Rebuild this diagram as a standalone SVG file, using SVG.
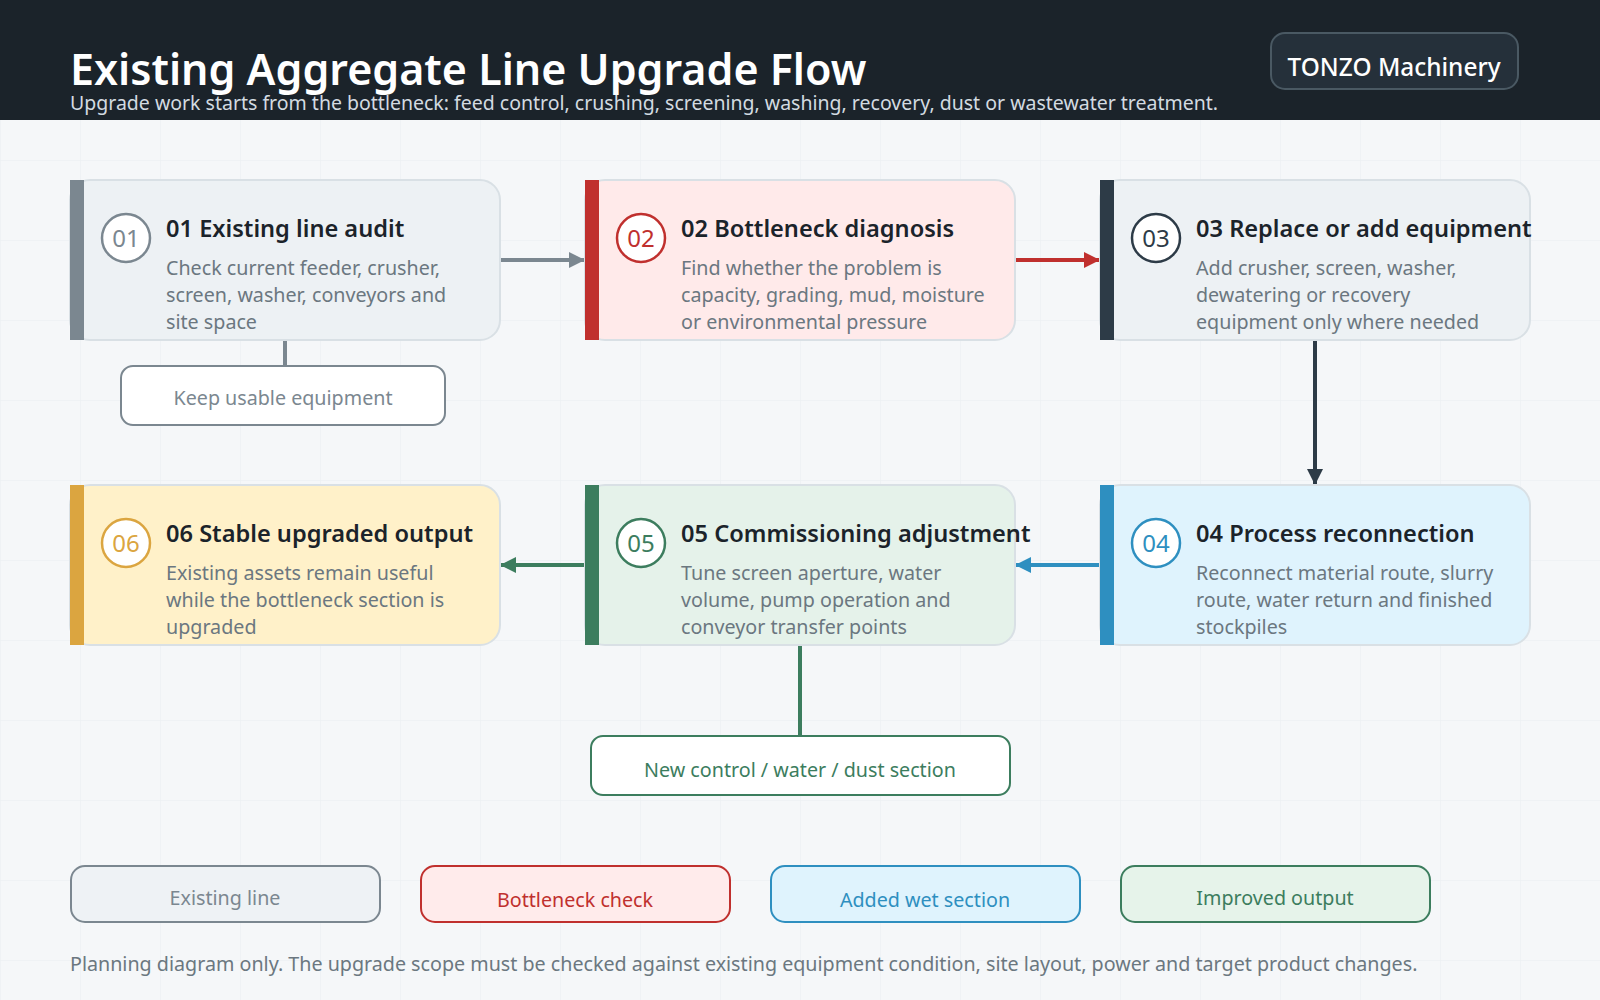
<svg xmlns="http://www.w3.org/2000/svg" width="1600" height="1000" viewBox="0 0 1600 1000">
<defs>
<pattern id="grid" width="80" height="80" patternUnits="userSpaceOnUse"><path d="M80 0H0V80" fill="none" stroke="#eaeef1" stroke-width="1"/></pattern>
<marker id="ah-gray" viewBox="0 0 10 10" refX="10" refY="5" markerWidth="4" markerHeight="4" orient="auto"><path d="M0 0L10 5L0 10z" fill="#7b8790"/></marker>
<marker id="ah-red" viewBox="0 0 10 10" refX="10" refY="5" markerWidth="4" markerHeight="4" orient="auto"><path d="M0 0L10 5L0 10z" fill="#c0302e"/></marker>
<marker id="ah-dark" viewBox="0 0 10 10" refX="10" refY="5" markerWidth="4" markerHeight="4" orient="auto"><path d="M0 0L10 5L0 10z" fill="#2d3b47"/></marker>
<marker id="ah-blue" viewBox="0 0 10 10" refX="10" refY="5" markerWidth="4" markerHeight="4" orient="auto"><path d="M0 0L10 5L0 10z" fill="#2e8fc0"/></marker>
<marker id="ah-green" viewBox="0 0 10 10" refX="10" refY="5" markerWidth="4" markerHeight="4" orient="auto"><path d="M0 0L10 5L0 10z" fill="#3c7d5e"/></marker>
</defs>
<style>
text{font-family:"Noto Sans","Open Sans",sans-serif}
.title{font-size:43px;font-weight:600;fill:#ffffff}
.sub{font-size:19.5px;fill:#d3dbe1}
.badge{font-size:24.4px;font-weight:500;fill:#ffffff}
.card{stroke:#d9e0e5;stroke-width:2}
.ct{font-size:23.6px;font-weight:600;fill:#1b232a}
.cd{font-size:19.7px;fill:#6b7780}
.num{font-size:24px;text-anchor:middle}
.circ{fill:#ffffff;stroke-width:2.5}
.note{font-size:19.7px;text-anchor:middle}
.leg{font-size:19.7px;text-anchor:middle}
.foot{font-size:19.7px;fill:#6b7780}
.conn{fill:none;stroke-width:4}
</style>
<rect width="1600" height="1000" fill="#f5f7f9"/>
<rect width="1600" height="1000" fill="url(#grid)"/>
<g id="header">
<rect x="0" y="0" width="1600" height="120" fill="#1b232a"/>
<text class="title" x="70" y="85">Existing Aggregate Line Upgrade Flow</text>
<text class="sub" x="70" y="110">Upgrade work starts from the bottleneck: feed control, crushing, screening, washing, recovery, dust or wastewater treatment.</text>
</g>
<g id="badge">
<rect x="1271" y="33" width="247" height="56" rx="14" fill="#25303a" stroke="#4a5963" stroke-width="2"/>
<text class="badge" x="1394" y="76" text-anchor="middle">TONZO Machinery</text>
</g>
<g id="connectors">
<path class="conn" d="M500 260H585" stroke="#7b8790" marker-end="url(#ah-gray)"/>
<path class="conn" d="M1015 260H1100" stroke="#c0302e" marker-end="url(#ah-red)"/>
<path class="conn" d="M1315 340V485" stroke="#2d3b47" marker-end="url(#ah-dark)"/>
<path class="conn" d="M1100 565H1015" stroke="#2e8fc0" marker-end="url(#ah-blue)"/>
<path class="conn" d="M585 565H500" stroke="#3c7d5e" marker-end="url(#ah-green)"/>
<path class="conn" d="M285 340V365" stroke="#7b8790" stroke-width="3"/>
<path class="conn" d="M800 645V735" stroke="#3c7d5e"/>
</g>
<g id="step01">
<rect class="card" x="70" y="180" width="430" height="160" rx="20" fill="#edf1f4"/>
<rect x="70" y="180" width="14" height="160" fill="#7b8790"/>
<circle class="circ" cx="126" cy="238" r="24" stroke="#7b8790"/>
<text class="num" x="126" y="247" fill="#7b8790">01</text>
<text class="ct" x="166" y="237">01 Existing line audit</text>
<text class="cd" x="166" y="275">Check current feeder, crusher,</text>
<text class="cd" x="166" y="302">screen, washer, conveyors and</text>
<text class="cd" x="166" y="329">site space</text>
</g>
<g id="step02">
<rect class="card" x="585" y="180" width="430" height="160" rx="20" fill="#ffeaea"/>
<rect x="585" y="180" width="14" height="160" fill="#c0302e"/>
<circle class="circ" cx="641" cy="238" r="24" stroke="#c0302e"/>
<text class="num" x="641" y="247" fill="#c0302e">02</text>
<text class="ct" x="681" y="237">02 Bottleneck diagnosis</text>
<text class="cd" x="681" y="275">Find whether the problem is</text>
<text class="cd" x="681" y="302">capacity, grading, mud, moisture</text>
<text class="cd" x="681" y="329">or environmental pressure</text>
</g>
<g id="step03">
<rect class="card" x="1100" y="180" width="430" height="160" rx="20" fill="#edf1f4"/>
<rect x="1100" y="180" width="14" height="160" fill="#2d3b47"/>
<circle class="circ" cx="1156" cy="238" r="24" stroke="#2d3b47"/>
<text class="num" x="1156" y="247" fill="#2d3b47">03</text>
<text class="ct" x="1196" y="237">03 Replace or add equipment</text>
<text class="cd" x="1196" y="275">Add crusher, screen, washer,</text>
<text class="cd" x="1196" y="302">dewatering or recovery</text>
<text class="cd" x="1196" y="329">equipment only where needed</text>
</g>
<g id="step04">
<rect class="card" x="1100" y="485" width="430" height="160" rx="20" fill="#dff3fd"/>
<rect x="1100" y="485" width="14" height="160" fill="#2e8fc0"/>
<circle class="circ" cx="1156" cy="543" r="24" stroke="#2e8fc0"/>
<text class="num" x="1156" y="552" fill="#2e8fc0">04</text>
<text class="ct" x="1196" y="542">04 Process reconnection</text>
<text class="cd" x="1196" y="580">Reconnect material route, slurry</text>
<text class="cd" x="1196" y="607">route, water return and finished</text>
<text class="cd" x="1196" y="634">stockpiles</text>
</g>
<g id="step05">
<rect class="card" x="585" y="485" width="430" height="160" rx="20" fill="#e5f2ea"/>
<rect x="585" y="485" width="14" height="160" fill="#3c7d5e"/>
<circle class="circ" cx="641" cy="543" r="24" stroke="#3c7d5e"/>
<text class="num" x="641" y="552" fill="#3c7d5e">05</text>
<text class="ct" x="681" y="542">05 Commissioning adjustment</text>
<text class="cd" x="681" y="580">Tune screen aperture, water</text>
<text class="cd" x="681" y="607">volume, pump operation and</text>
<text class="cd" x="681" y="634">conveyor transfer points</text>
</g>
<g id="step06">
<rect class="card" x="70" y="485" width="430" height="160" rx="20" fill="#fff1c9"/>
<rect x="70" y="485" width="14" height="160" fill="#dba540"/>
<circle class="circ" cx="126" cy="543" r="24" stroke="#dba540"/>
<text class="num" x="126" y="552" fill="#dba540">06</text>
<text class="ct" x="166" y="542">06 Stable upgraded output</text>
<text class="cd" x="166" y="580">Existing assets remain useful</text>
<text class="cd" x="166" y="607">while the bottleneck section is</text>
<text class="cd" x="166" y="634">upgraded</text>
</g>
<g id="keep-usable">
<rect x="121" y="366" width="324" height="59" rx="12" fill="#ffffff" stroke="#7b8790" stroke-width="2"/>
<text class="note" x="283" y="405" fill="#7b8790">Keep usable equipment</text>
</g>
<g id="new-control">
<rect x="591" y="736" width="419" height="59" rx="12" fill="#ffffff" stroke="#3c7d5e" stroke-width="2"/>
<text class="note" x="800" y="777" fill="#3c7d5e">New control / water / dust section</text>
</g>
<g id="legend">
<rect x="71" y="866" width="309" height="56" rx="14" fill="#eef2f5" stroke="#7b8790" stroke-width="2"/>
<text class="leg" x="225" y="905" fill="#7b8790">Existing line</text>
<rect x="421" y="866" width="309" height="56" rx="14" fill="#ffebeb" stroke="#c0302e" stroke-width="2"/>
<text class="leg" x="575" y="907" fill="#c0302e">Bottleneck check</text>
<rect x="771" y="866" width="309" height="56" rx="14" fill="#dff3fd" stroke="#2e8fc0" stroke-width="2"/>
<text class="leg" x="925" y="907" fill="#2e8fc0">Added wet section</text>
<rect x="1121" y="866" width="309" height="56" rx="14" fill="#e6f3ea" stroke="#3c7d5e" stroke-width="2"/>
<text class="leg" x="1275" y="905" fill="#3c7d5e">Improved output</text>
</g>
<text class="foot" x="70" y="971">Planning diagram only. The upgrade scope must be checked against existing equipment condition, site layout, power and target product changes.</text>
</svg>
